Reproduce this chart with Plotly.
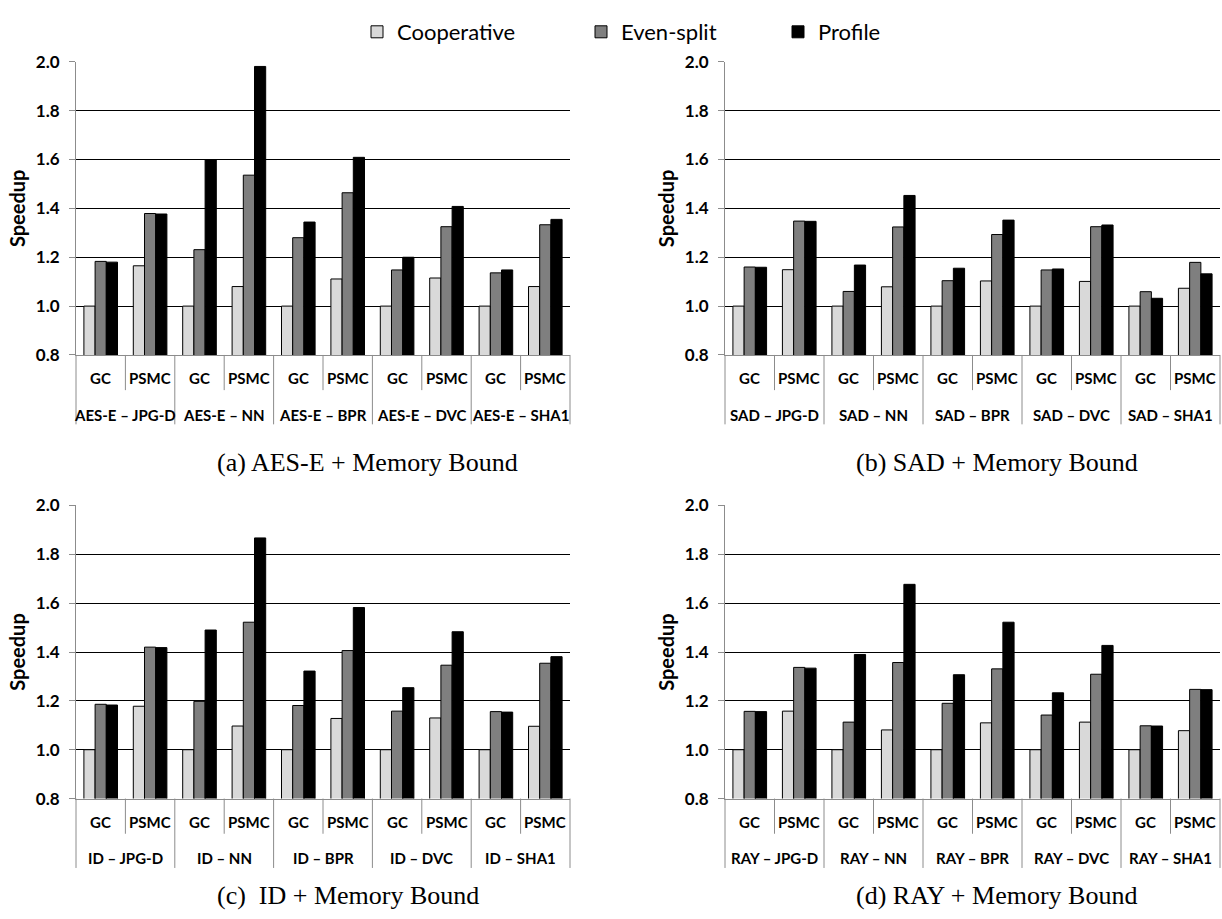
import plotly.graph_objects as go

# ---------------- data ----------------
SERIES = ["Cooperative", "Even-split", "Profile"]
PREFIXES = ["AES-E", "SAD", "ID", "RAY"]
TARGETS = ["JPG-D", "NN", "BPR", "DVC", "SHA1"]
CONFIGS = ["GC", "PSMC"]
CAPTIONS = ["(a) AES-E + Memory Bound", "(b) SAD + Memory Bound",
            "(c)\u00a0 ID + Memory Bound", "(d) RAY + Memory Bound"]
Y_TICKS = [0.8, 1.0, 1.2, 1.4, 1.6, 1.8, 2.0]

coop_a = [1.00, 1.165, 1.00, 1.08, 1.00, 1.111, 1.00, 1.115, 1.00, 1.08]
even_a = [1.183, 1.379, 1.231, 1.536, 1.28, 1.464, 1.148, 1.325, 1.136, 1.333]
prof_a = [1.18, 1.377, 1.60, 1.981, 1.344, 1.609, 1.20, 1.408, 1.148, 1.355]

coop_b = [1.00, 1.149, 1.00, 1.079, 1.00, 1.103, 1.00, 1.101, 1.00, 1.073]
even_b = [1.16, 1.348, 1.06, 1.324, 1.104, 1.293, 1.148, 1.325, 1.059, 1.179]
prof_b = [1.159, 1.347, 1.168, 1.453, 1.155, 1.352, 1.152, 1.332, 1.032, 1.132]

coop_c = [1.00, 1.178, 1.00, 1.097, 1.00, 1.128, 1.00, 1.13, 1.00, 1.096]
even_c = [1.186, 1.42, 1.198, 1.522, 1.181, 1.406, 1.158, 1.346, 1.156, 1.354]
prof_c = [1.183, 1.418, 1.49, 1.867, 1.322, 1.582, 1.254, 1.483, 1.154, 1.381]

coop_d = [1.00, 1.158, 1.00, 1.081, 1.00, 1.11, 1.00, 1.113, 1.00, 1.078]
even_d = [1.157, 1.337, 1.113, 1.357, 1.19, 1.331, 1.142, 1.309, 1.098, 1.247]
prof_d = [1.156, 1.334, 1.39, 1.677, 1.307, 1.522, 1.233, 1.427, 1.097, 1.246]

PANEL_DATA = [(coop_a, even_a, prof_a), (coop_b, even_b, prof_b),
              (coop_c, even_c, prof_c), (coop_d, even_d, prof_d)]

# ---------------- style ----------------
W, H = 1222, 919
COLORS = ["#d9d9d9", "#7f7f7f", "#000000"]
LEGEND_W = [179, 152, None]
SANS = "Lato, 'Open Sans', sans-serif"
SERIF = "'Liberation Serif', 'Times New Roman', serif"
GRAY = "#8c8c8c"

# pixel boxes of plot areas (left, right, top, bottom)
BOX = [(76, 570, 52, 352), (725, 1220, 52, 352),
       (76, 570, 506, 806), (725, 1220, 506, 806)]
CAP_POS = [(215, 462), (854, 462), (215, 905), (854, 905)]

fig = go.Figure()
layout = {}
shapes, annotations = [], []

for p, prefix in enumerate(PREFIXES):
    n = "" if p == 0 else str(p + 1)
    xa, ya = "x" + n, "y" + n
    groups = [f"{prefix} \u2013 {t}" for t in TARGETS]
    cats = [f"{g} {c}" for g in groups for c in CONFIGS]
    for s, (name, vals) in enumerate(zip(SERIES, PANEL_DATA[p])):
        kw = {}
        if LEGEND_W[s]:
            kw["legendwidth"] = LEGEND_W[s]
        fig.add_trace(go.Bar(
            x=cats, y=vals, name=name, xaxis=xa, yaxis=ya,
            marker=dict(color=COLORS[s], line=dict(color="#000000", width=1)),
            showlegend=(p == 0), legendgroup=name, **kw))

    l, r, t, b = BOX[p]
    layout["xaxis" + n] = dict(
        domain=[l / W, r / W], anchor=ya, type="category",
        categoryorder="array", categoryarray=cats, range=[-0.5, len(cats) - 0.5],
        showticklabels=False, ticks="", showgrid=False, zeroline=False,
        showline=True, linecolor=GRAY, linewidth=1)
    layout["yaxis" + n] = dict(
        domain=[1 - b / H, 1 - t / H], anchor=xa, range=[0.8, 2.0],
        tickvals=Y_TICKS, tickformat=".1f",
        tickfont=dict(family=SANS, size=17, color="#000000", weight="bold"),
        ticks="outside", ticklen=6, tickcolor=GRAY, ticklabelstandoff=6,
        showgrid=True, gridcolor="#000000", gridwidth=1, zeroline=False,
        showline=True, linecolor=GRAY, linewidth=1,
        title=dict(text="Speedup", standoff=4,
                   font=dict(family=SANS, size=20, color="#000000", weight="bold")))

    dom_h = b - t
    short_y = -36 / dom_h
    long_y = -71 / dom_h
    for i in range(len(cats) + 1):
        y1 = long_y if i % 2 == 0 else short_y
        if i == 0 or i == len(cats):
            shapes.append(dict(type="line", xref=xa + " domain", yref=ya + " domain",
                               x0=i / len(cats), x1=i / len(cats), y0=0, y1=y1,
                               line=dict(color=GRAY, width=1)))
        else:
            shapes.append(dict(type="line", xref=xa, yref=ya + " domain",
                               x0=i - 0.5, x1=i - 0.5, y0=0, y1=y1,
                               line=dict(color=GRAY, width=1)))
    for c in cats:
        annotations.append(dict(
            x=c, y=-24 / dom_h, xref=xa, yref=ya + " domain",
            text=c.split(" ")[-1], showarrow=False, yanchor="middle",
            font=dict(family=SANS, size=15, color="#000000", weight="bold")))
    for j, g in enumerate(groups):
        annotations.append(dict(
            x=2 * j + 0.5, y=-61 / dom_h, xref=xa, yref=ya + " domain",
            text=g, showarrow=False, yanchor="middle",
            font=dict(family=SANS, size=15, color="#000000", weight="bold")))
    cx, cy = CAP_POS[p]
    annotations.append(dict(
        x=cx / W, y=1 - cy / H, xref="paper", yref="paper", text=CAPTIONS[p],
        showarrow=False, xanchor="left", yanchor="middle",
        font=dict(family=SERIF, size=26, color="#000000")))

fig.update_layout(
    width=W, height=H, margin=dict(l=0, r=0, t=0, b=0),
    paper_bgcolor="white", plot_bgcolor="white",
    barmode="group", bargap=0.32, bargroupgap=0,
    shapes=shapes, annotations=annotations,
    legend=dict(orientation="h", x=357 / W, xanchor="left", y=1, yanchor="top",
                font=dict(family=SANS, size=22, color="#000000"),
                bgcolor="rgba(0,0,0,0)", traceorder="normal"),
    **layout)

fig.write_html("out.html")
